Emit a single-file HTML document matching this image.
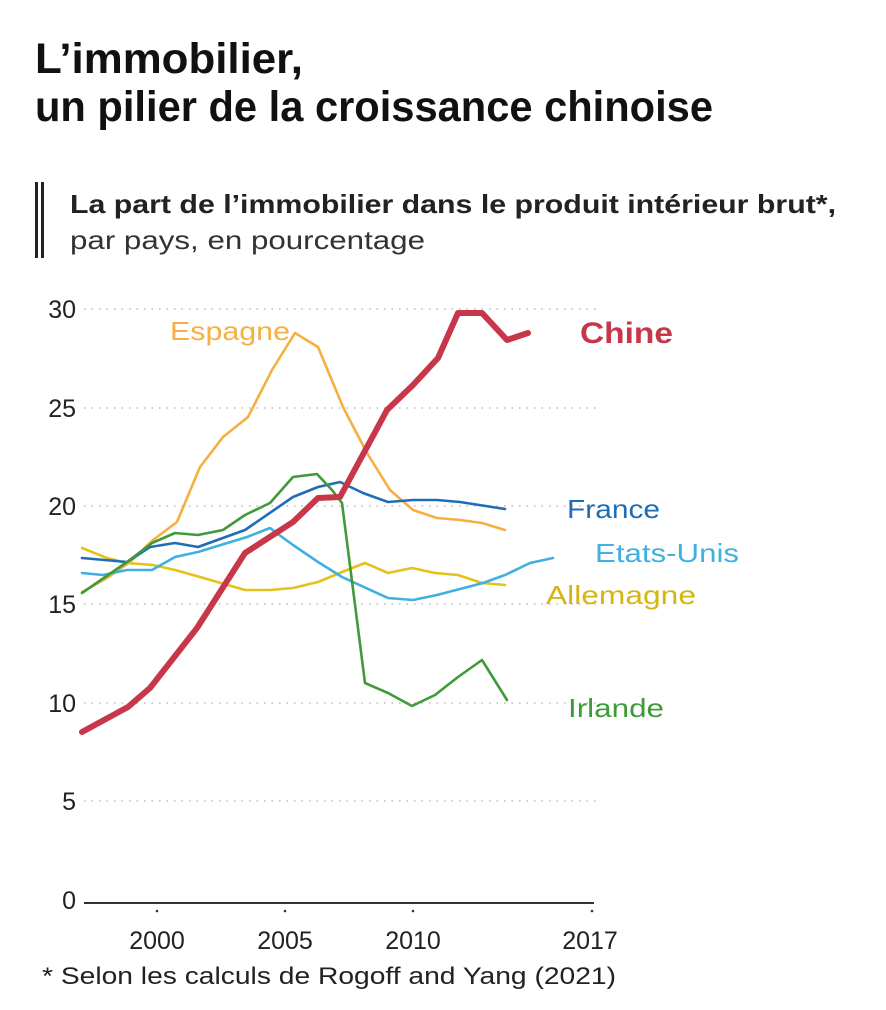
<!DOCTYPE html>
<html><head><meta charset="utf-8"><style>
html,body{margin:0;padding:0;background:#fff;}
svg{display:block;}
text{font-family:"Liberation Sans",sans-serif;}
</style></head><body>
<svg width="886" height="1010" viewBox="0 0 886 1010" xmlns="http://www.w3.org/2000/svg">
<rect width="886" height="1010" fill="#fff"/>
<text x="35" y="73" font-size="43" font-weight="bold" fill="#111" textLength="268" lengthAdjust="spacingAndGlyphs">L’immobilier,</text>
<text x="35" y="121" font-size="43" font-weight="bold" fill="#111" textLength="678" lengthAdjust="spacingAndGlyphs">un pilier de la croissance chinoise</text>
<rect x="35" y="182" width="3" height="76" fill="#222"/>
<rect x="41" y="182" width="3" height="76" fill="#222"/>
<text x="70" y="213" font-size="26" font-weight="bold" fill="#222" textLength="766" lengthAdjust="spacingAndGlyphs">La part de l’immobilier dans le produit intérieur brut*,</text>
<text x="70" y="249" font-size="26" fill="#333" textLength="355" lengthAdjust="spacingAndGlyphs">par pays, en pourcentage</text>
<g stroke="#bbb" stroke-width="1.5" stroke-dasharray="1.5 6">
<line x1="84" y1="309" x2="600" y2="309"/>
<line x1="84" y1="408" x2="600" y2="408"/>
<line x1="84" y1="506" x2="600" y2="506"/>
<line x1="84" y1="604" x2="600" y2="604"/>
<line x1="84" y1="703" x2="600" y2="703"/>
<line x1="84" y1="801" x2="600" y2="801"/>
</g>
<g font-size="25" fill="#222" text-anchor="end">
<text x="76" y="318">30</text><text x="76" y="417">25</text><text x="76" y="515">20</text>
<text x="76" y="613">15</text><text x="76" y="712">10</text><text x="76" y="810">5</text><text x="76" y="909">0</text>
</g>
<line x1="84" y1="903" x2="594" y2="903" stroke="#333" stroke-width="2"/>
<g fill="#333"><circle cx="157" cy="911" r="1.3"/><circle cx="285" cy="911" r="1.3"/><circle cx="413" cy="911" r="1.3"/><circle cx="592" cy="911" r="1.3"/></g>
<g font-size="25" fill="#222" text-anchor="middle">
<text x="157" y="949">2000</text><text x="285" y="949">2005</text><text x="413" y="949">2010</text><text x="590" y="949">2017</text>
</g>
<text x="42" y="984" font-size="24" fill="#222" textLength="574" lengthAdjust="spacingAndGlyphs">* Selon les calculs de Rogoff and Yang (2021)</text>
<g fill="none" stroke-linejoin="round" stroke-linecap="round" stroke-width="2.6">
<polyline stroke="#f5b041" points="82,592 107,578 130,562 153,540 177,522 200,467 223,437 248,417 272,370 295,333 318,347 343,407 367,453 390,490 413,510 437,518 460,520 482,523 505,530"/>
<polyline stroke="#e3c21b" points="82,548 107,558 127,563 153,565 175,570 200,577 245,590 270,590 293,588 318,582 342,572 365,563 388,573 412,568 435,573 458,575 482,583 505,585"/>
<polyline stroke="#3fb0e0" points="82,573 103,575 127,570 152,570 175,557 198,552 247,537 270,528 282,537 293,545 318,562 342,577 388,598 413,600 437,595 483,583 505,575 530,563 553,558"/>
<polyline stroke="#1f6db5" points="82,558 127,562 150,547 175,543 198,547 245,530 293,497 318,487 340,482 363,493 388,502 413,500 437,500 460,502 505,509"/>
<polyline stroke="#3f9a3a" points="82,593 127,562 152,543 175,533 198,535 223,530 245,515 270,503 293,477 317,474 332,490 342,503 365,683 388,693 412,706 435,695 458,677 482,660 507,700"/>
<polyline stroke="#c8364a" stroke-width="6" points="82,732 128,707 150,688 197,628 245,553 293,522 318,498 340,497 387,410 413,385 438,358 458,313 482,313 507,340 528,333"/>
</g>
<text x="580" y="343" font-size="30" font-weight="bold" fill="#c8364a" textLength="93" lengthAdjust="spacingAndGlyphs">Chine</text>
<text x="170" y="340" font-size="26" fill="#f5b041" textLength="120" lengthAdjust="spacingAndGlyphs">Espagne</text>
<text x="567" y="518" font-size="26" fill="#1f6db5" textLength="93" lengthAdjust="spacingAndGlyphs">France</text>
<text x="595" y="562" font-size="26" fill="#3fb0e0" textLength="144" lengthAdjust="spacingAndGlyphs">Etats-Unis</text>
<text x="546" y="604" font-size="26" fill="#d4b512" textLength="150" lengthAdjust="spacingAndGlyphs">Allemagne</text>
<text x="568" y="717" font-size="26" fill="#3f9a3a" textLength="96" lengthAdjust="spacingAndGlyphs">Irlande</text>
</svg>
</body></html>
